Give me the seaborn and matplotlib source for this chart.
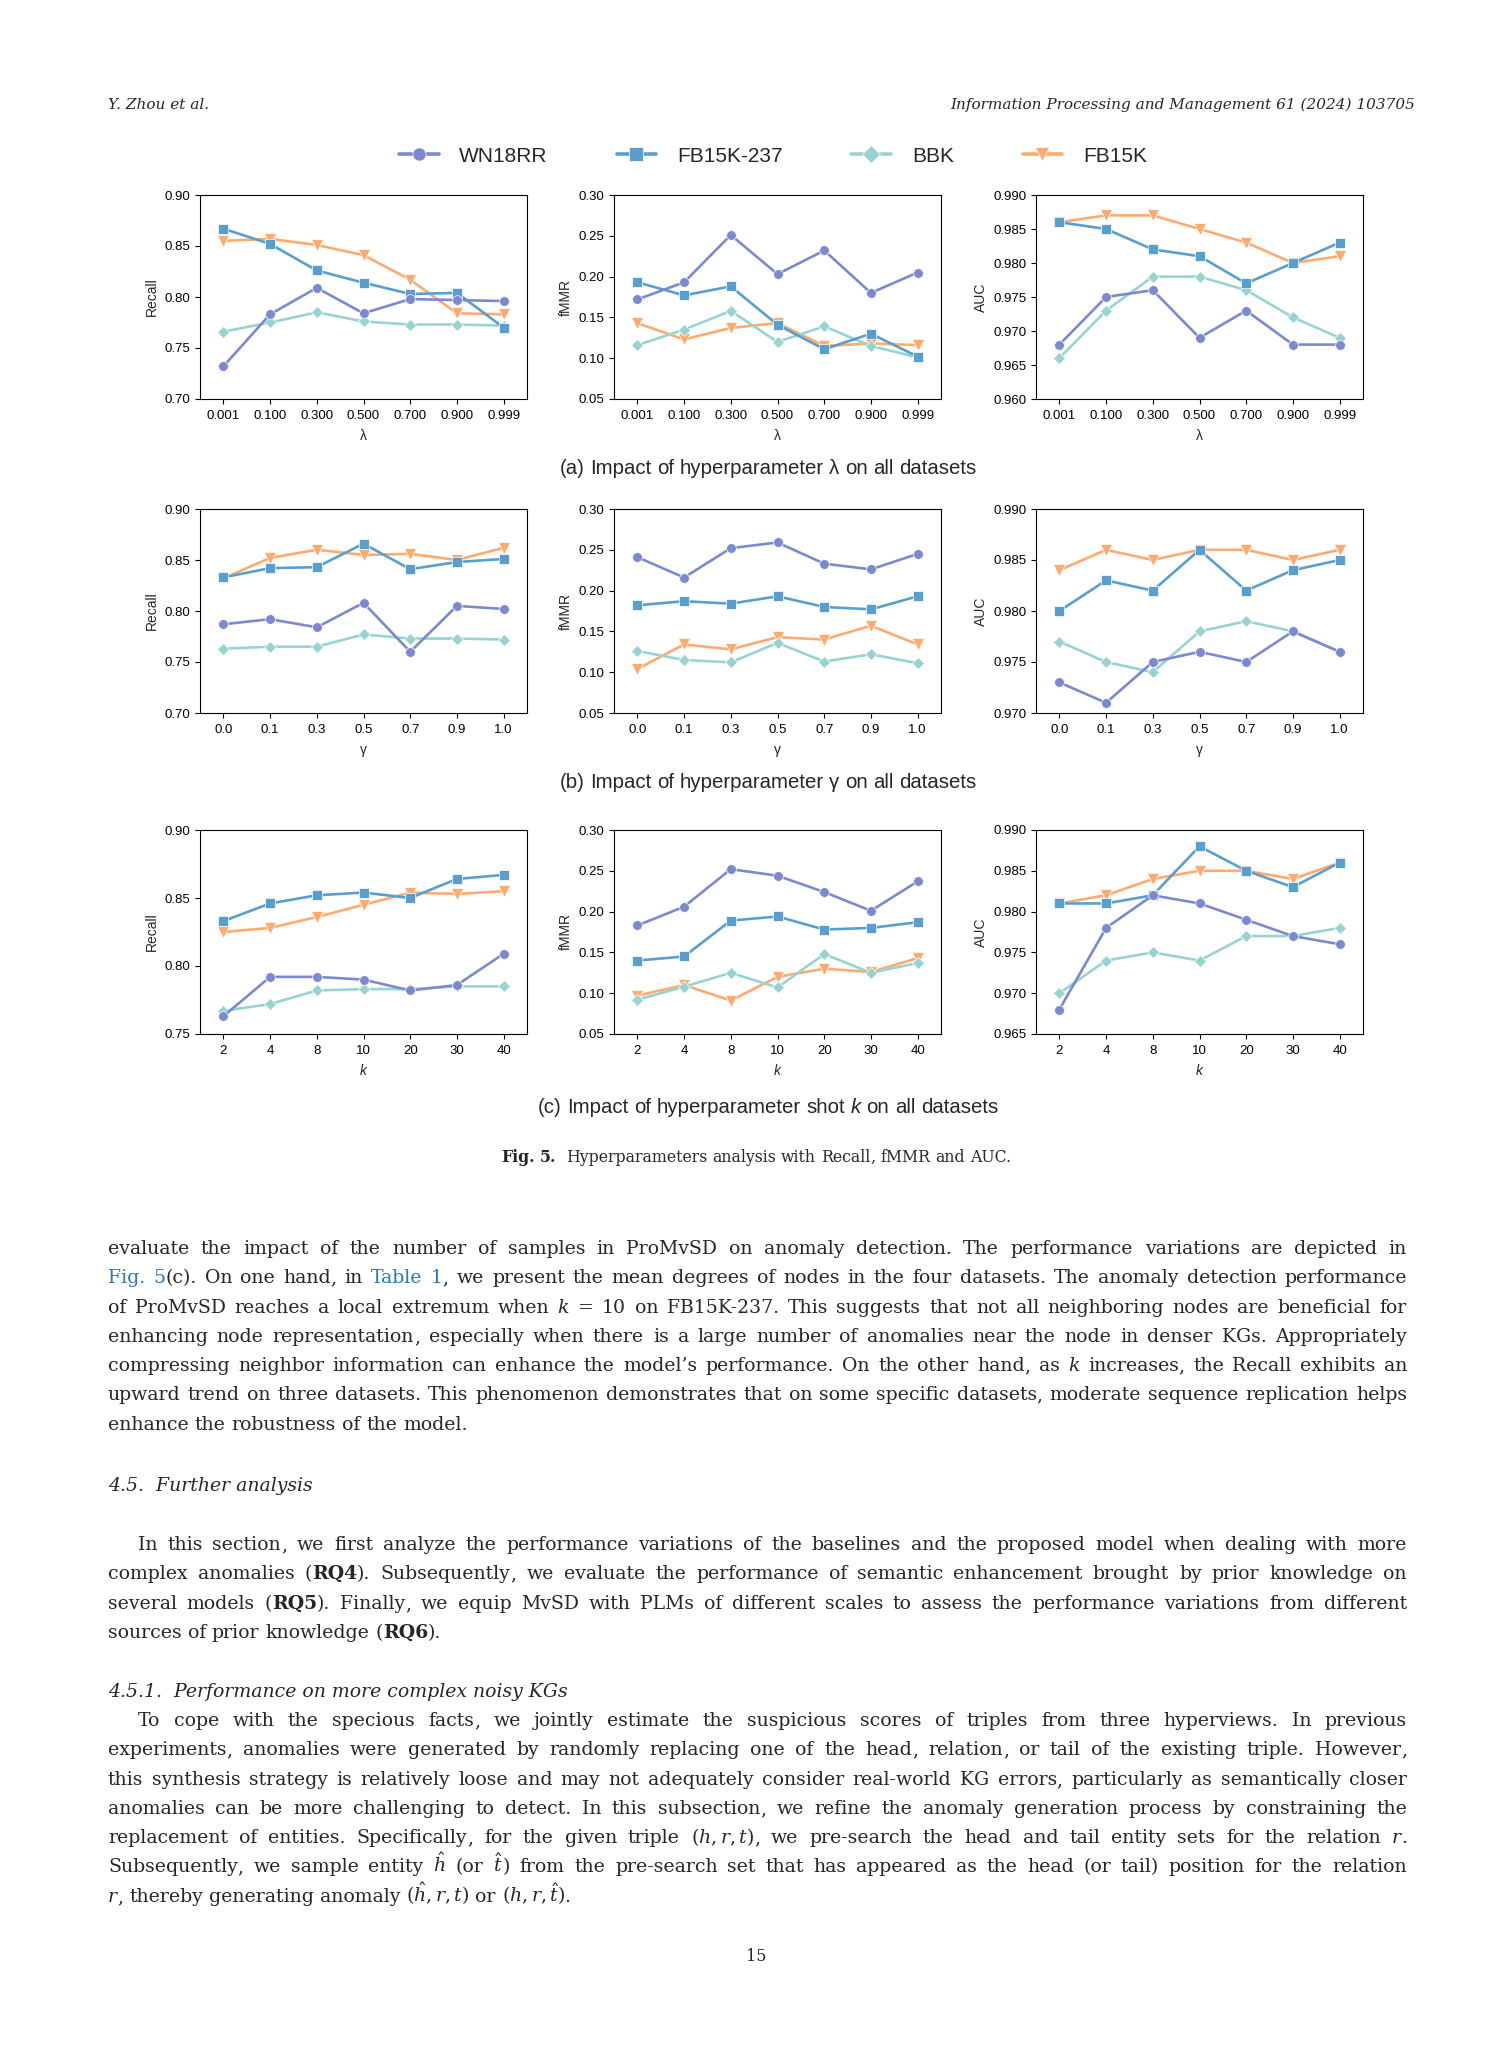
import re
import pandas as pd
import matplotlib
matplotlib.use('Agg')
import matplotlib.pyplot as plt
import seaborn as sns
from matplotlib.ticker import FormatStrFormatter

# ---- data ----
datasets = ['WN18RR', 'FB15K-237', 'BBK', 'FB15K']

lam_labels = ['0.001', '0.100', '0.300', '0.500', '0.700', '0.900', '0.999']
gam_labels = ['0.0', '0.1', '0.3', '0.5', '0.7', '0.9', '1.0']
k_labels = ['2', '4', '8', '10', '20', '30', '40']

# (a) lambda
recall_lam_wn18rr = [0.732, 0.783, 0.809, 0.784, 0.798, 0.797, 0.796]
recall_lam_fb237 = [0.867, 0.852, 0.826, 0.814, 0.803, 0.804, 0.770]
recall_lam_bbk = [0.766, 0.775, 0.785, 0.776, 0.773, 0.773, 0.772]
recall_lam_fb15k = [0.855, 0.857, 0.851, 0.841, 0.817, 0.784, 0.783]

fmmr_lam_wn18rr = [0.172, 0.193, 0.251, 0.203, 0.232, 0.180, 0.205]
fmmr_lam_fb237 = [0.193, 0.177, 0.188, 0.141, 0.111, 0.130, 0.102]
fmmr_lam_bbk = [0.116, 0.135, 0.158, 0.120, 0.139, 0.115, 0.101]
fmmr_lam_fb15k = [0.143, 0.123, 0.137, 0.143, 0.115, 0.118, 0.116]

auc_lam_wn18rr = [0.968, 0.975, 0.976, 0.969, 0.973, 0.968, 0.968]
auc_lam_fb237 = [0.986, 0.985, 0.982, 0.981, 0.977, 0.980, 0.983]
auc_lam_bbk = [0.966, 0.973, 0.978, 0.978, 0.976, 0.972, 0.969]
auc_lam_fb15k = [0.986, 0.987, 0.987, 0.985, 0.983, 0.980, 0.981]

# (b) gamma
recall_gam_wn18rr = [0.787, 0.792, 0.784, 0.808, 0.760, 0.805, 0.802]
recall_gam_fb237 = [0.833, 0.842, 0.843, 0.866, 0.841, 0.848, 0.851]
recall_gam_bbk = [0.763, 0.765, 0.765, 0.777, 0.773, 0.773, 0.772]
recall_gam_fb15k = [0.832, 0.852, 0.860, 0.855, 0.856, 0.850, 0.862]

fmmr_gam_wn18rr = [0.241, 0.216, 0.252, 0.259, 0.233, 0.226, 0.245]
fmmr_gam_fb237 = [0.182, 0.187, 0.184, 0.193, 0.180, 0.177, 0.193]
fmmr_gam_bbk = [0.126, 0.115, 0.112, 0.136, 0.113, 0.122, 0.111]
fmmr_gam_fb15k = [0.104, 0.134, 0.128, 0.143, 0.140, 0.157, 0.134]

auc_gam_wn18rr = [0.973, 0.971, 0.975, 0.976, 0.975, 0.978, 0.976]
auc_gam_fb237 = [0.980, 0.983, 0.982, 0.986, 0.982, 0.984, 0.985]
auc_gam_bbk = [0.977, 0.975, 0.974, 0.978, 0.979, 0.978, 0.976]
auc_gam_fb15k = [0.984, 0.986, 0.985, 0.986, 0.986, 0.985, 0.986]

# (c) shot k
recall_k_wn18rr = [0.763, 0.792, 0.792, 0.790, 0.782, 0.786, 0.809]
recall_k_fb237 = [0.833, 0.846, 0.852, 0.854, 0.850, 0.864, 0.867]
recall_k_bbk = [0.767, 0.772, 0.782, 0.783, 0.783, 0.785, 0.785]
recall_k_fb15k = [0.825, 0.828, 0.836, 0.845, 0.854, 0.853, 0.855]

fmmr_k_wn18rr = [0.183, 0.206, 0.252, 0.244, 0.224, 0.201, 0.237]
fmmr_k_fb237 = [0.140, 0.145, 0.189, 0.194, 0.178, 0.180, 0.187]
fmmr_k_bbk = [0.092, 0.108, 0.125, 0.107, 0.148, 0.125, 0.137]
fmmr_k_fb15k = [0.097, 0.110, 0.091, 0.120, 0.130, 0.126, 0.143]

auc_k_wn18rr = [0.968, 0.978, 0.982, 0.981, 0.979, 0.977, 0.976]
auc_k_fb237 = [0.981, 0.981, 0.982, 0.988, 0.985, 0.983, 0.986]
auc_k_bbk = [0.970, 0.974, 0.975, 0.974, 0.977, 0.977, 0.978]
auc_k_fb15k = [0.981, 0.982, 0.984, 0.985, 0.985, 0.984, 0.986]

# ---- page text ----
para1 = [
    "evaluate the impact of the number of samples in ProMvSD on anomaly detection. The performance variations are depicted in",
    "[Fig.] [5](c). On one hand, in [Table] [1], we present the mean degrees of nodes in the four datasets. The anomaly detection performance",
    "of ProMvSD reaches a local extremum when _k_ = 10 on FB15K-237. This suggests that not all neighboring nodes are beneficial for",
    "enhancing node representation, especially when there is a large number of anomalies near the node in denser KGs. Appropriately",
    "compressing neighbor information can enhance the model’s performance. On the other hand, as _k_ increases, the Recall exhibits an",
    "upward trend on three datasets. This phenomenon demonstrates that on some specific datasets, moderate sequence replication helps",
    "enhance the robustness of the model.",
]
para2 = [
    "In this section, we first analyze the performance variations of the baselines and the proposed model when dealing with more",
    "complex anomalies (*RQ4*). Subsequently, we evaluate the performance of semantic enhancement brought by prior knowledge on",
    "several models (*RQ5*). Finally, we equip MvSD with PLMs of different scales to assess the performance variations from different",
    "sources of prior knowledge (*RQ6*).",
]
para3 = [
    "To cope with the specious facts, we jointly estimate the suspicious scores of triples from three hyperviews. In previous",
    "experiments, anomalies were generated by randomly replacing one of the head, relation, or tail of the existing triple. However,",
    "this synthesis strategy is relatively loose and may not adequately consider real-world KG errors, particularly as semantically closer",
    "anomalies can be more challenging to detect. In this subsection, we refine the anomaly generation process by constraining the",
    "replacement of entities. Specifically, for the given triple $(h,r,t)$, we pre-search the head and tail entity sets for the relation _r_.",
    "Subsequently, we sample entity $\\hat{h}$ (or $\\hat{t}$) from the pre-search set that has appeared as the head (or tail) position for the relation",
    "_r_, thereby generating anomaly $(\\hat{h},r,t)$ or $(h,r,\\hat{t})$.",
]

# ---- style ----
sns.set_theme(style='ticks')
plt.rcParams['font.family'] = ['Liberation Sans', 'DejaVu Sans']
plt.rcParams['mathtext.fontset'] = 'dejavuserif'

palette = {'WN18RR': '#7B8AD0', 'FB15K-237': '#589FD0', 'BBK': '#97D4D1', 'FB15K': '#FFAA6E'}
markers = {'WN18RR': 'o', 'FB15K-237': 's', 'BBK': 'D', 'FB15K': 'v'}
msize = {'o': 7, 's': 7, 'D': 6, 'v': 8}

W, H = 1512, 2063
fig = plt.figure(figsize=(W / 100, H / 100), dpi=100)
renderer = fig.canvas.get_renderer()


def fx(x):
    return x / W


def fy(y):
    return 1 - y / H


def panel(ax, xlabels, series, ylim, step, fmt, ylabel, xlabel, italic=False, legend=False):
    df = pd.DataFrame({
        'x': xlabels * len(datasets),
        'y': sum(series, []),
        'dataset': [d for d in datasets for _ in xlabels],
    })
    sns.lineplot(data=df, x='x', y='y', hue='dataset', style='dataset',
                 hue_order=datasets, style_order=datasets, palette=palette,
                 markers=markers, dashes=False, sort=False, errorbar=None,
                 linewidth=1.9, markeredgewidth=0.5, markeredgecolor='white',
                 legend=legend, ax=ax)
    # first dataset ends up on top, as in the original
    for i, ln in enumerate(ax.lines):
        m = ln.get_marker()
        if m in msize:
            ln.set_markersize(msize[m])
        ln.set_zorder(10 - i)
    ax.set_xlim(-0.5, len(xlabels) - 0.5)
    ax.set_ylim(*ylim)
    n = int(round((ylim[1] - ylim[0]) / step))
    ax.set_yticks([ylim[0] + i * step for i in range(n + 1)])
    ax.yaxis.set_major_formatter(FormatStrFormatter(fmt))
    ax.set_ylabel(ylabel, fontsize=10)
    ax.set_xlabel(xlabel, fontsize=10, fontstyle='italic' if italic else 'normal', labelpad=5)
    ax.tick_params(direction='out', length=3.5, width=0.8, labelsize=9.5, colors='black')
    ax.tick_params(axis='x', pad=4.5)
    for sp in ax.spines.values():
        sp.set_visible(True)
        sp.set_linewidth(0.8)
        sp.set_color('black')
        sp.set_zorder(20)
    ax.set_facecolor('white')


lefts = [200, 614, 1036]
tops = [195, 509, 830]
aw, ah = 327, 204
axes = [[fig.add_axes([fx(l), fy(t + ah), aw / W, ah / H]) for l in lefts] for t in tops]

panel(axes[0][0], lam_labels, [recall_lam_wn18rr, recall_lam_fb237, recall_lam_bbk, recall_lam_fb15k],
      (0.70, 0.90), 0.05, '%.2f', 'Recall', 'λ', legend=True)
panel(axes[0][1], lam_labels, [fmmr_lam_wn18rr, fmmr_lam_fb237, fmmr_lam_bbk, fmmr_lam_fb15k],
      (0.05, 0.30), 0.05, '%.2f', 'fMMR', 'λ')
panel(axes[0][2], lam_labels, [auc_lam_wn18rr, auc_lam_fb237, auc_lam_bbk, auc_lam_fb15k],
      (0.960, 0.990), 0.005, '%.3f', 'AUC', 'λ')

panel(axes[1][0], gam_labels, [recall_gam_wn18rr, recall_gam_fb237, recall_gam_bbk, recall_gam_fb15k],
      (0.70, 0.90), 0.05, '%.2f', 'Recall', 'γ')
panel(axes[1][1], gam_labels, [fmmr_gam_wn18rr, fmmr_gam_fb237, fmmr_gam_bbk, fmmr_gam_fb15k],
      (0.05, 0.30), 0.05, '%.2f', 'fMMR', 'γ')
panel(axes[1][2], gam_labels, [auc_gam_wn18rr, auc_gam_fb237, auc_gam_bbk, auc_gam_fb15k],
      (0.970, 0.990), 0.005, '%.3f', 'AUC', 'γ')

panel(axes[2][0], k_labels, [recall_k_wn18rr, recall_k_fb237, recall_k_bbk, recall_k_fb15k],
      (0.75, 0.90), 0.05, '%.2f', 'Recall', 'k', italic=True)
panel(axes[2][1], k_labels, [fmmr_k_wn18rr, fmmr_k_fb237, fmmr_k_bbk, fmmr_k_fb15k],
      (0.05, 0.30), 0.05, '%.2f', 'fMMR', 'k', italic=True)
panel(axes[2][2], k_labels, [auc_k_wn18rr, auc_k_fb237, auc_k_bbk, auc_k_fb15k],
      (0.965, 0.990), 0.005, '%.3f', 'AUC', 'k', italic=True)

# shared legend on top
handles, labels = axes[0][0].get_legend_handles_labels()
axes[0][0].get_legend().remove()
for h in handles:
    h.set_linewidth(2.6)
    h.set_markersize(9.5)
fig.legend(handles, labels, loc='center', bbox_to_anchor=(fx(773), fy(156)), ncol=4,
           frameon=False, fontsize=15, handlelength=1.9, handletextpad=1.0, columnspacing=3.3)

# ---- running text with simple justification ----
# commas get their own text object so that word baselines stay aligned
seg_re = re.compile(r'(\[[^\]]*\]|\*[^*]*\*|_[^_]*_|\$[^$]*\$|,|[^\[*_$,]+)')
LINK = '#2a7ab5'


def text_w(s, size, family):
    t = fig.text(0, 0, s, fontsize=size, family=family)
    w = t.get_window_extent(renderer).width
    t.remove()
    return w


def make_word(word, size, family):
    parts = []
    comma_kern = text_w('n,', size, family) - text_w('n', size, family) - text_w(',', size, family)
    for seg in seg_re.findall(word):
        kw = {}
        if seg.startswith('['):
            seg, kw['color'] = seg[1:-1], LINK
        elif seg.startswith('*'):
            seg, kw['fontweight'] = seg[1:-1], 'bold'
        elif seg.startswith('_'):
            seg, kw['fontstyle'] = seg[1:-1], 'italic'
        t = fig.text(0, 0, seg, fontsize=size, family=family, va='baseline', ha='left', **kw)
        kern = comma_kern if (seg == ',' and parts) else 0.0
        parts.append((t, t.get_window_extent(renderer).width, kern))
    return parts


def space_width(size, family):
    return text_w('n n', size, family) - text_w('nn', size, family)


def word_width(parts):
    return sum(w + k for _, w, k in parts)


def natural_width(line, size, family):
    words = [make_word(w, size, family) for w in line.split(' ')]
    total = sum(word_width(p) for p in words) + space_width(size, family) * (len(words) - 1)
    for parts in words:
        for t, _, _ in parts:
            t.remove()
    return total


def draw_line(line, x0, x1, y, size, family, align='left'):
    words = [make_word(w, size, family) for w in line.split(' ')]
    widths = [word_width(p) for p in words]
    gap = space_width(size, family)
    if align == 'justify' and len(words) > 1:
        gap = (x1 - x0 - sum(widths)) / (len(words) - 1)
    total = sum(widths) + gap * (len(words) - 1)
    x = x0
    if align == 'center':
        x = (x0 + x1) / 2 - total / 2
    elif align == 'right':
        x = x1 - total
    for parts in words:
        for t, w, k in parts:
            x += k
            t.set_position((fx(x), fy(y)))
            x += w
        x += gap


BODY = ['DejaVu Serif']
SANS = ['Liberation Sans', 'DejaVu Sans']
LM, RM = 108, 1407
IND = 30

# body size: largest size at which every justified line still fits
full_lines = [(l, 0) for l in para1[:-1]] + [(l, IND if i == 0 else 0) for i, l in enumerate(para2[:-1])] \
    + [(l, IND if i == 0 else 0) for i, l in enumerate(para3[:-1])]
ratio = min((RM - LM - ind) / natural_width(l, 10, BODY) for l, ind in full_lines)
BS = min(14.2, 10 * ratio * 0.995)


def paragraph(lines, y0, indent=0):
    for i, line in enumerate(lines):
        x0 = LM + (indent if i == 0 else 0)
        align = 'left' if i == len(lines) - 1 else 'justify'
        draw_line(line, x0, RM, round(y0 + i * 29.3), BS, BODY, align)


# header
fig.text(fx(108), fy(109), 'Y. Zhou et al.', fontsize=11, family=BODY, style='italic', va='baseline')
fig.text(fx(1415), fy(109), 'Information Processing and Management 61 (2024) 103705', fontsize=11,
         family=BODY, style='italic', va='baseline', ha='right')

# sub-figure captions
draw_line('(a) Impact of hyperparameter λ on all datasets', 0, 2 * 768, 474, 14.7, SANS, 'center')
draw_line('(b) Impact of hyperparameter γ on all datasets', 0, 2 * 768, 788, 14.7, SANS, 'center')
draw_line('(c) Impact of hyperparameter shot _k_ on all datasets', 0, 2 * 768, 1113, 14.7, SANS, 'center')
draw_line('*Fig.* *5.*  Hyperparameters analysis with Recall, fMMR and AUC.', 0, 2 * 756, 1162, 11.3, BODY, 'center')

paragraph(para1, 1254)
fig.text(fx(LM), fy(1491), '4.5.  Further analysis', fontsize=BS, family=BODY, style='italic', va='baseline')
paragraph(para2, 1550, indent=IND)
fig.text(fx(LM), fy(1697), '4.5.1.  Performance on more complex noisy KGs', fontsize=BS, family=BODY,
         style='italic', va='baseline')
paragraph(para3, 1726, indent=IND)

fig.text(fx(756), fy(1961), '15', fontsize=11.5, family=BODY, ha='center', va='baseline')

fig.savefig('out.png', dpi=100, facecolor='white')
